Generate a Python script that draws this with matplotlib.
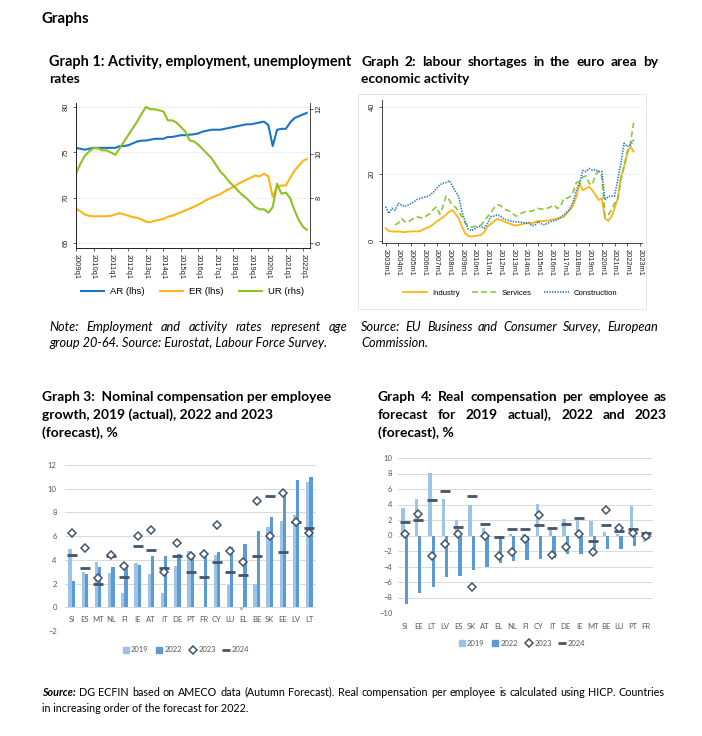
import matplotlib
matplotlib.use("Agg")
import matplotlib.pyplot as plt
from matplotlib.lines import Line2D
from matplotlib.patches import Patch, Rectangle
import numpy as np

# ---------------- data ----------------
# Graph 1: quarterly, 2009q1 .. 2022q2
g1_start = 2009
g1_ar = [75.5, 75.4, 75.3, 75.4,
         75.5, 75.5, 75.5, 75.5,
         75.5, 75.5, 75.7, 75.7,
         75.8, 76.0, 76.2, 76.3,
         76.3, 76.4, 76.5, 76.5,
         76.5, 76.7, 76.7, 76.8,
         76.9, 76.9, 76.95, 77.0,
         77.1, 77.3, 77.4, 77.5,
         77.5, 77.5, 77.6, 77.7,
         77.8, 77.9, 78.0, 78.1,
         78.1, 78.2, 78.3, 78.4,
         78.0, 75.7, 77.5, 77.6,
         77.6, 78.3, 78.8, 79.0,
         79.2, 79.4]
g1_er = [68.8, 68.5, 68.15, 68.0,
         67.95, 67.95, 67.95, 67.95,
         68.0, 68.15, 68.3, 68.15,
         68.0, 67.85, 67.8, 67.6,
         67.35, 67.3, 67.45, 67.55,
         67.65, 67.9, 68.0, 68.2,
         68.4, 68.6, 68.8, 69.0,
         69.25, 69.5, 69.8, 70.0,
         70.2, 70.4, 70.7, 70.95,
         71.2, 71.5, 71.75, 72.0,
         72.2, 72.45, 72.35, 72.65,
         72.35, 70.1, 71.2, 71.35,
         71.35, 72.2, 73.0, 73.55,
         74.1, 74.3]
g1_ur = [9.1, 9.55, 9.9, 10.1,
         10.25, 10.25, 10.15, 10.15,
         10.05, 9.95, 10.25, 10.55,
         10.85, 11.15, 11.45, 11.8,
         12.1, 12.0, 12.0, 11.95,
         11.9, 11.5, 11.5, 11.4,
         11.2, 11.0, 10.6, 10.55,
         10.4, 10.2, 10.0, 9.8,
         9.5, 9.2, 9.0, 8.75,
         8.55, 8.35, 8.15, 8.0,
         7.8, 7.6, 7.5, 7.5,
         7.35, 7.6, 8.65, 8.2,
         8.25, 8.0, 7.45, 7.0,
         6.7, 6.55]
g1_years = list(range(2009, 2023))
g1_tick_labels = [f"{y}q1" for y in g1_years]
g1_names = ["AR (lhs)", "ER (lhs)", "UR (rhs)"]

# Graph 2: quarterly readings, 2003q1 .. 2022q3 (services from 2003q4)
g2_start = 2003
g2_industry = [3.8, 3.0, 2.8, 2.8,
               2.8, 2.7, 2.6, 2.8,
               2.8, 2.9, 2.8, 3.0,
               3.5, 3.9, 4.3, 5.0,
               5.8, 6.4, 7.0, 7.8,
               8.7, 9.2, 8.0, 6.7,
               4.3, 2.3, 1.5, 1.3,
               1.5, 1.6, 1.8, 2.6,
               4.3, 5.0, 5.8, 6.5,
               6.3, 5.9, 5.5, 5.2,
               4.8, 4.6, 4.8, 5.0,
               5.3, 5.2, 5.3, 5.6,
               6.0, 5.9, 6.0, 6.1,
               6.3, 6.5, 6.7, 6.9,
               7.2, 8.2, 9.2, 10.7,
               13.2, 17.2, 15.1, 15.6,
               16.2, 15.1, 13.7, 12.2,
               12.7, 6.7, 6.0, 7.2,
               9.7, 12.7, 19.1, 22.1,
               26.1, 28.1, 26.6]
g2_services_start = 2003.75
g2_services = [4.8,
               5.3, 6.7, 5.8, 5.5,
               6.3, 6.8, 7.2, 6.9,
               6.9, 7.6, 8.2, 9.4,
               10.2, 8.0, 10.2, 13.4,
               12.2, 10.7, 10.0, 8.7,
               7.2, 5.3, 4.5, 4.1,
               4.3, 4.5, 4.8, 5.8,
               7.2, 8.2, 9.7, 10.7,
               10.7, 9.7, 9.2, 8.9,
               8.2, 7.4, 7.7, 8.4,
               8.7, 8.8, 8.9, 9.3,
               9.7, 9.5, 9.4, 9.8,
               10.2, 10.7, 9.7, 10.2,
               12.7, 12.7, 13.2, 14.7,
               17.4, 17.7, 19.0, 19.4,
               17.2, 16.7, 19.8, 20.8,
               19.2, 7.2, 7.7, 9.2,
               11.2, 12.2, 18.2, 22.1,
               26.6, 29.1, 35.2]
g2_construction = [10.2, 8.2, 9.7, 9.2,
                   11.2, 10.7, 10.2, 10.7,
                   11.2, 11.7, 12.4, 12.7,
                   13.0, 13.2, 13.7, 14.5,
                   15.6, 16.7, 17.2, 17.4,
                   18.0, 16.4, 14.7, 13.2,
                   8.7, 5.8, 3.5, 3.1,
                   3.5, 4.3, 4.3, 3.8,
                   5.1, 7.2, 7.4, 7.7,
                   7.5, 6.7, 6.3, 6.0,
                   5.8, 5.7, 5.6, 5.5,
                   5.3, 5.5, 4.5, 4.8,
                   5.8, 5.1, 4.8, 5.3,
                   5.8, 6.0, 6.3, 7.0,
                   7.7, 8.7, 9.7, 11.7,
                   15.1, 17.2, 21.0, 20.7,
                   21.6, 21.1, 21.3, 20.7,
                   20.7, 12.2, 13.2, 13.4,
                   13.4, 18.2, 23.1, 29.1,
                   28.1, 28.6, 30.1]
g2_years = list(range(2003, 2024))
g2_tick_labels = [f"{y}m1" for y in g2_years]
g2_names = ["Industry", "Services", "Construction"]

# Graph 3: nominal compensation per employee growth
g3_countries = ["SI", "ES", "MT", "NL", "FI", "IE", "AT", "IT", "DE", "PT",
                "FR", "CY", "LU", "EL", "BE", "SK", "EE", "LV", "LT"]
g3_2019 = [4.9, 3.0, 3.85, 2.85, 1.2, 3.75, 2.8, 1.2, 3.45, 4.75,
           0.0, 4.45, 1.9, -0.25, 2.0, 6.8, 7.25, 7.8, 10.6]
g3_2022 = [2.2, 2.8, 3.4, 3.4, 3.5, 3.6, 4.3, 4.35, 4.5, 4.6,
           4.6, 4.7, 5.1, 5.3, 6.4, 7.6, 9.7, 10.7, 10.95]
g3_2023 = [6.3, 5.0, 2.45, 4.45, 3.5, 6.05, 6.55, 3.0, 5.4, 4.3,
           4.5, 6.95, 4.75, 3.85, 9.0, 6.0, 9.65, 7.2, 6.3]
g3_2024 = [4.45, 3.35, 1.95, 4.3, 2.55, 5.15, 4.85, 3.3, 4.3, 3.0,
           2.55, 3.85, 2.95, 2.7, 4.3, 9.4, 4.7, 7.2, 6.7]

# Graph 4: real compensation per employee
g4_countries = ["SI", "EE", "LT", "LV", "ES", "SK", "AT", "EL", "NL", "FI",
                "CY", "IT", "DE", "IE", "MT", "BE", "LU", "PT", "FR"]
g4_2019 = [3.55, 4.65, 8.1, 4.65, 2.0, 4.0, 1.0, -0.1, 0.2, 0.2,
           4.1, 0.65, 2.1, 2.0, 1.9, 0.5, 0.2, 3.85, -0.9]
g4_2022 = [-8.9, -7.4, -6.65, -5.3, -5.2, -4.5, -4.05, -3.5, -3.35, -3.15,
           -3.0, -2.85, -2.45, -2.4, -2.1, -1.75, -1.7, -1.3, -0.5]
g4_2023 = [0.25, 2.8, -2.6, -1.1, 0.2, -6.7, -0.1, -2.6, -2.1, -0.5,
           2.6, -2.5, -1.45, 0.2, -2.1, 3.35, 0.95, 0.35, -0.05]
g4_2024 = [1.7, 2.05, 4.55, 5.8, 1.15, 5.15, 1.5, -0.15, 0.8, 0.85,
           1.3, 1.0, 1.5, 2.25, -0.7, 1.35, 0.55, 0.85, 0.35]
bar_years = ["2019", "2022", "2023", "2024"]

# ---------------- texts ----------------
txt_header = "Graphs"
txt_g1_title = ["Graph 1: Activity, employment, unemployment", "rates"]
txt_g2_title = ["Graph 2: labour shortages in the euro area by", "economic activity"]
txt_g1_note = ["Note: Employment and activity rates represent age",
               "group 20-64. Source: Eurostat, Labour Force Survey."]
txt_g2_note = ["Source: EU Business and Consumer Survey, European", "Commission."]
txt_g3_title = ["Graph 3:  Nominal compensation per employee",
                "growth, 2019 (actual), 2022 and 2023", "(forecast), %"]
txt_g4_title = ["Graph 4: Real compensation per employee as",
                "forecast for 2019 actual), 2022 and 2023", "(forecast), %"]
txt_source = ["DG ECFIN based on AMECO data (Autumn Forecast). Real compensation per employee is calculated using HICP.  Countries",
              "in increasing order of the forecast for 2022."]

# ---------------- styles ----------------
W, H = 702, 736
fig = plt.figure(figsize=(W / 100, H / 100), dpi=100)
fig.patch.set_facecolor("white")
renderer = fig.canvas.get_renderer()

DOC = "Lato"
STATA = "Liberation Sans"
c_ar, c_er, c_ur = "#1B74C4", "#FDB515", "#8DC21F"
c_ind, c_ser, c_con = "#FDB515", "#8DC63F", "#1E78C8"
c19, c22, cdk = "#9DC3E6", "#5B9BD5", "#44546A"
xl_txt = "#595959"


def add_ax(l, t, r, b):
    return fig.add_axes([l / W, 1 - b / H, (r - l) / W, (b - t) / H])


def put(x, y, s, size, **kw):
    kw.setdefault("family", DOC)
    return fig.text(x / W, 1 - y / H, s, fontsize=size, va="center", ha="left", **kw)


def wid(t):
    return t.get_window_extent(renderer).width


def fit(s, target, **kw):
    kw.setdefault("family", DOC)
    t = fig.text(0, 0, s, fontsize=10, **kw)
    w = wid(t)
    t.remove()
    return 10 * target / w


def justify(x0, x1, y, words, size, **kw):
    texts, widths = [], []
    for w_, p in words:
        t = put(x0, y, w_, size, **{**kw, **p})
        texts.append(t)
        widths.append(wid(t))
    space = 0.22 * size * 100 / 72
    need = sum(widths) + space * (len(words) - 1)
    if need > (x1 - x0):
        k = (x1 - x0) / need
        for t in texts:
            t.set_fontsize(size * k)
        widths = [wid(t) for t in texts]
    gap = (x1 - x0 - sum(widths)) / max(len(words) - 1, 1)
    x = x0
    for t, wd in zip(texts, widths):
        t.set_x(x / W)
        x += wd + gap


def split(s, **p):
    return [(w_, p) for w_ in s.split()]


# ---------------- header & titles ----------------
put(42, 19, txt_header, fit(txt_header, 48, weight="bold"), weight="bold")

s1 = fit(txt_g1_title[0], 303, weight="bold")
s3 = fit(txt_g3_title[0], 287, weight="bold")
tsize = min(s1, s3)
put(49, 62, txt_g1_title[0], s1, weight="bold")
put(49, 79, txt_g1_title[1], tsize, weight="bold")
justify(361, 658, 62, split(txt_g2_title[0]), tsize, weight="bold")
put(361, 79, txt_g2_title[1], tsize, weight="bold")
put(42, 397, txt_g3_title[0], s3, weight="bold")
put(42, 415, txt_g3_title[1], tsize, weight="bold")
put(42, 433, txt_g3_title[2], tsize, weight="bold")
justify(378, 667, 397, split(txt_g4_title[0]), tsize, weight="bold")
justify(378, 667, 415, split(txt_g4_title[1]), tsize, weight="bold")
put(378, 433, txt_g4_title[2], tsize, weight="bold")

bsize = fit(txt_g1_note[1], 278, style="italic")
justify(49, 347, 327, split(txt_g1_note[0], style="italic"), bsize)
put(49, 343, txt_g1_note[1], bsize, style="italic")
justify(361, 658, 327, split(txt_g2_note[0], style="italic"), bsize)
put(361, 343, txt_g2_note[1], bsize, style="italic")
ssize = min(bsize, fit("Source: " + txt_source[0], 623))
justify(42, 665, 692, [("Source:", dict(style="italic", weight="bold"))] + split(txt_source[0]), ssize)
put(42, 709, txt_source[1], ssize)

# ---------------- Graph 1 ----------------
ax1 = add_ax(75.5, 103, 309.6, 248)
q1 = g1_start + np.arange(len(g1_ar)) / 4
l_ar, = ax1.plot(q1, g1_ar, color=c_ar, lw=1.5, solid_capstyle="butt")
l_er, = ax1.plot(q1, g1_er, color=c_er, lw=1.5, solid_capstyle="butt")
ax1.set_xlim(2008.97, 2022.36)
ax1.set_ylim(64.45, 80.45)
ax1.set_yticks([65, 70, 75, 80])
ax1.set_xticks(g1_years, g1_tick_labels)
ax1.grid(axis="y", color="#EAF1F2", lw=0.6)
ax1.set_axisbelow(True)
ax1r = ax1.twinx()
l_ur, = ax1r.plot(q1, g1_ur, color=c_ur, lw=1.5, solid_capstyle="butt")
ax1r.set_ylim(5.76, 12.28)
ax1r.set_yticks([6, 8, 10, 12])
for a in (ax1, ax1r):
    a.spines["top"].set_visible(False)
    for s in a.spines.values():
        s.set_linewidth(0.6)
        s.set_color("#222222")
    a.tick_params(length=2.5, width=0.5, labelsize=5.4, pad=1.5, colors="#222222")
    for lab in a.get_xticklabels() + a.get_yticklabels():
        lab.set_family(STATA)
ax1.spines["right"].set_visible(False)
ax1.tick_params(axis="x", labelrotation=-90)
ax1.tick_params(axis="y", labelrotation=90)
ax1r.tick_params(axis="y", labelrotation=90)
for lab in ax1.get_yticklabels() + ax1r.get_yticklabels():
    lab.set_va("center")
fig.legend([l_ar, l_er, l_ur], g1_names, loc="center", ncol=3, frameon=False,
           bbox_to_anchor=(192 / W, 1 - 292 / H), prop=dict(family=STATA, size=6.8),
           handlelength=2.6, handletextpad=0.5, columnspacing=1.6)

# ---------------- Graph 2 ----------------
fig.add_artist(Rectangle((358 / W, 1 - 309 / H), (646 - 358) / W, (309 - 94) / H,
                         transform=fig.transFigure, fill=False, ec="#E2E2E2", lw=0.6))
ax2 = add_ax(381.7, 100, 642, 243.3)
q2 = g2_start + np.arange(len(g2_industry)) / 4
q2s = g2_services_start + np.arange(len(g2_services)) / 4
l_ind, = ax2.plot(q2, g2_industry, color=c_ind, lw=1.3)
l_ser, = ax2.plot(q2s, g2_services, color=c_ser, lw=1.2, ls=(0, (3.5, 2)))
l_con, = ax2.plot(q2, g2_construction, color=c_con, lw=1.2, ls=(0, (0.8, 0.8)))
ax2.set_xlim(2002.69, 2023.16)
ax2.set_ylim(-0.7, 42)
ax2.set_yticks([0, 20, 40])
ax2.set_xticks(g2_years, g2_tick_labels)
ax2.grid(axis="y", color="#EAF1F2", lw=0.6)
ax2.set_axisbelow(True)
for k in ("top", "right"):
    ax2.spines[k].set_visible(False)
for s in ax2.spines.values():
    s.set_linewidth(0.6)
    s.set_color("#222222")
ax2.tick_params(length=2.5, width=0.5, labelsize=5.4, pad=1.5, colors="#222222")
ax2.tick_params(axis="x", labelrotation=-90)
ax2.tick_params(axis="y", labelrotation=90)
for lab in ax2.get_xticklabels() + ax2.get_yticklabels():
    lab.set_family(STATA)
for lab in ax2.get_yticklabels():
    lab.set_va("center")
fig.legend([l_ind, l_ser, l_con], g2_names, loc="center", ncol=3, frameon=False,
           bbox_to_anchor=(510 / W, 1 - 293 / H), prop=dict(family=STATA, size=5.6),
           handlelength=3.2, handletextpad=0.6, columnspacing=1.6)


# ---------------- Graphs 3 & 4 ----------------
def bar_panel(ax, countries, v19, v22, v23, v24, ylim, step, zero_axis):
    xi = np.arange(len(countries))
    ax.bar(xi - 0.125, v19, width=0.25, color=c19, zorder=2)
    ax.bar(xi + 0.125, v22, width=0.25, color=c22, zorder=2)
    ax.plot(xi, v24, ls="none", marker="_", ms=6.5, mec=cdk, mew=2.0, zorder=3)
    ax.plot(xi, v23, ls="none", marker="D", ms=3.8, mfc="white", mec=cdk, mew=1.1, zorder=4)
    ax.set_xlim(-0.5, len(countries) - 0.5)
    ax.set_ylim(*ylim)
    ax.set_yticks(np.arange(ylim[0], ylim[1] + 0.1, step))
    ax.grid(axis="y", color="#D9D9D9", lw=0.7)
    ax.set_axisbelow(True)
    for s in ax.spines.values():
        s.set_visible(False)
    if zero_axis:
        ax.spines["bottom"].set_position(("data", 0))
    ax.set_xticks(xi, countries)
    ax.tick_params(length=0, labelsize=5.5, labelcolor=xl_txt)
    for lab in ax.get_xticklabels() + ax.get_yticklabels():
        lab.set_family(DOC)


ax3 = add_ax(65, 465, 316, 631)
bar_panel(ax3, g3_countries, g3_2019, g3_2022, g3_2023, g3_2024, (-2, 12), 2, True)
ax3.tick_params(axis="x", pad=6)
ax3.tick_params(axis="y", pad=6)

ax4 = add_ax(398, 458, 653, 613)
bar_panel(ax4, g4_countries, g4_2019, g4_2022, g4_2023, g4_2024, (-10, 10), 2, False)
ax4.tick_params(axis="x", pad=7)
ax4.tick_params(axis="y", pad=4)

handles = [Patch(color=c19), Patch(color=c22),
           Line2D([], [], ls="none", marker="D", ms=3.8, mfc="white", mec=cdk, mew=1.1),
           Line2D([], [], ls="none", marker="_", ms=6, mec=cdk, mew=2.0)]
for cx, cy in ((186, 650), (522, 643)):
    fig.legend(handles, bar_years, loc="center", ncol=4, frameon=False,
               bbox_to_anchor=(cx / W, 1 - cy / H), prop=dict(family=DOC, size=5.5),
               labelcolor=xl_txt, handlelength=0.8, handleheight=0.8,
               handletextpad=0.3, columnspacing=1.0)

fig.savefig("out.png", dpi=100, facecolor="white")
